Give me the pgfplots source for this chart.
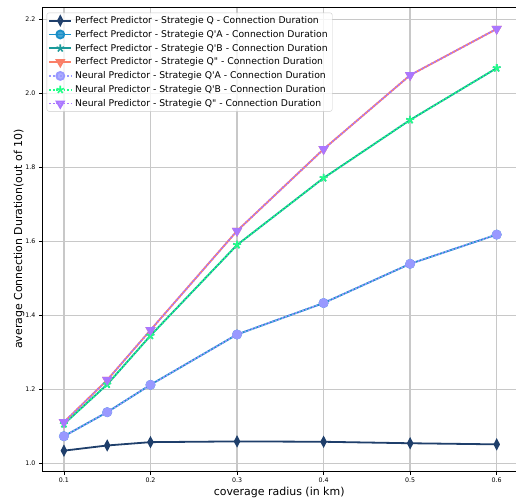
\documentclass[border=0pt]{standalone}
\usepackage{fontspec}
\setmainfont{DejaVu Sans}
\usepackage{pgfplots}
\pgfplotsset{compat=1.18}

\definecolor{cQ}{HTML}{1F3F6B}
\definecolor{cQA}{HTML}{1A8FC8}
\definecolor{cQB}{HTML}{1A9A9A}
\definecolor{cQpp}{HTML}{FA7F68}
\definecolor{nQA}{HTML}{9999FF}
\definecolor{nQB}{HTML}{22FF88}
\definecolor{nQpp}{HTML}{AA77FF}
\definecolor{gridc}{HTML}{C8C8C8}

% straight quotes for the strategy names
\newcommand{\sq}{\textquotesingle}
\newcommand{\dq}{\textquotedbl}

\begin{document}
\begin{tikzpicture}
\begin{axis}[
  scale only axis,
  width=473.7bp, height=463.7bp,
  xmin=0.075, xmax=0.6223,
  ymin=0.979, ymax=2.2324,
  axis x line*=box, axis y line*=left,
  axis line style={line width=0.8bp, black},
  xtick={0.1,0.2,0.3,0.4,0.5,0.6},
  ytick={1.0,1.2,1.4,1.6,1.8,2.0,2.2},
  xtick pos=bottom, ytick pos=left,
  tick align=outside,
  major tick length=3.5bp,
  every tick/.style={black, line width=0.6bp},
  /pgf/number format/assume math mode=true,
  xticklabel style={font=\fontsize{6.3}{7}\selectfont, /pgf/number format/.cd, fixed, fixed zerofill, precision=1},
  yticklabel style={font=\fontsize{6.3}{7}\selectfont, /pgf/number format/.cd, fixed, fixed zerofill, precision=1},
  grid=major,
  major grid style={color=gridc, line width=1.3bp},
  xlabel={coverage radius (in km)},
  ylabel={average Connection Duration(out of 10)},
  label style={font=\fontsize{11}{13}\selectfont},
  xlabel style={yshift=2.5bp},
  ylabel style={yshift=-6bp},
  legend cell align=left,
  legend style={at={(rel axis cs:0,1)}, anchor=north west, xshift=4.4bp, yshift=-5.4bp,
    draw=black!20, rounded corners=2bp, fill=white, fill opacity=0.8, text opacity=1,
    font=\fontsize{9.3}{10}\selectfont, row sep=1.3bp, inner sep=1.5bp,
    nodes={inner xsep=3bp}},
  legend image code/.code={
    \draw[mark repeat=2, mark phase=2] plot coordinates {(-2bp,0bp) (9bp,0bp) (20bp,0bp)};
  },
  every axis plot/.append style={line width=1.8bp},
]
% Perfect predictor
\addplot[cQ, mark=diamond*, mark size=3.2bp, mark options={solid, yscale=1.35, xscale=0.95}]
  coordinates {(0.1,1.034) (0.15,1.048) (0.2,1.057) (0.3,1.059) (0.4,1.058) (0.5,1.054) (0.6,1.051)};
\addlegendentry{Perfect Predictor - Strategie Q - Connection Duration}
\addplot[cQA, mark=*, mark size=4bp, mark options={solid}]
  coordinates {(0.1,1.073) (0.15,1.138) (0.2,1.212) (0.3,1.348) (0.4,1.433) (0.5,1.539) (0.6,1.618)};
\addlegendentry{Perfect Predictor - Strategie Q\sq A - Connection Duration}
\addplot[cQB, mark=star, mark size=4bp, mark options={solid, fill=cQB, line width=1.6bp}]
  coordinates {(0.1,1.106) (0.15,1.213) (0.2,1.345) (0.3,1.590) (0.4,1.771) (0.5,1.928) (0.6,2.068)};
\addlegendentry{Perfect Predictor - Strategie Q\sq B - Connection Duration}
\addplot[cQpp, mark=triangle*, mark size=4.2bp, mark options={solid, rotate=180}]
  coordinates {(0.1,1.111) (0.15,1.225) (0.2,1.360) (0.3,1.628) (0.4,1.849) (0.5,2.049) (0.6,2.174)};
\addlegendentry{Perfect Predictor - Strategie Q\dq{} - Connection Duration}
% Neural predictor
\addplot[nQA, dash pattern=on 1.8bp off 1.8bp, mark=*, mark size=4bp, mark options={solid}]
  coordinates {(0.1,1.073) (0.15,1.138) (0.2,1.212) (0.3,1.348) (0.4,1.433) (0.5,1.539) (0.6,1.618)};
\addlegendentry{Neural Predictor - Strategie Q\sq A - Connection Duration}
\addplot[nQB, dash pattern=on 1.8bp off 1.8bp, mark=star, mark size=4bp, mark options={solid, fill=nQB, line width=1.6bp}]
  coordinates {(0.1,1.106) (0.15,1.213) (0.2,1.345) (0.3,1.590) (0.4,1.771) (0.5,1.928) (0.6,2.068)};
\addlegendentry{Neural Predictor - Strategie Q\sq B - Connection Duration}
\addplot[nQpp, dash pattern=on 1.8bp off 1.8bp, mark=triangle*, mark size=4.2bp, mark options={solid, rotate=180}]
  coordinates {(0.1,1.111) (0.15,1.225) (0.2,1.360) (0.3,1.628) (0.4,1.849) (0.5,2.049) (0.6,2.174)};
\addlegendentry{Neural Predictor - Strategie Q\dq{} - Connection Duration}
\end{axis}
\pgfresetboundingbox
\useasboundingbox (-42.3bp,-31bp) rectangle (473.7bp,471bp);
\end{tikzpicture}
\end{document}
